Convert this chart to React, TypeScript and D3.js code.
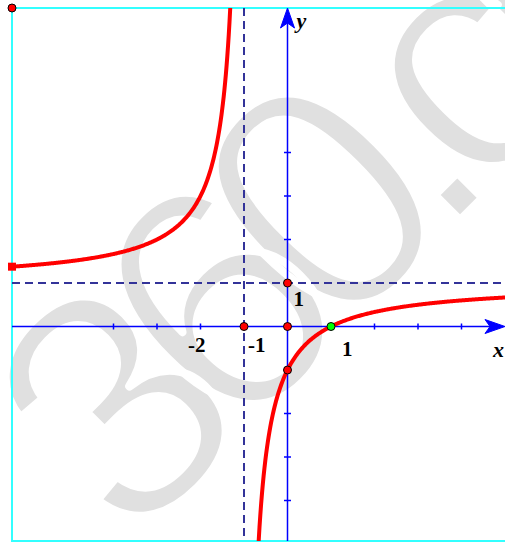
import React from "react";
import * as d3 from "d3";

// ---- data ----
const xTicks = [-4, -3, -2, -1, 1, 2, 3, 4];
const yTicks = [-4, -3, -2, -1, 1, 2, 3, 4];
const xTickLabels = [
  { v: -2, t: "-2" },
  { v: -1, t: "-1" },
  { v: 1, t: "1" },
];
const yTickLabels = [{ v: 1, t: "1" }];
// y = (x + numC) / (x + denC)
const numC = -1;
const denC = 1;
const asymptoteX = -1;
const asymptoteY = 1;
const redPoints = [
  [-1, 0],
  [0, 0],
  [0, 1],
  [0, -1],
];
const greenPoints = [[1, 0]];
const watermark = "360.cn";

const W = 505;
const H = 543;
const unit = 43.5;
const ox = 287.5;
const oy = 326.5;
const frameL = 12;
const frameT = 8;
const frameB = 541;

export default function App() {
  const x = d3.scaleLinear().domain([0, 1]).range([ox, ox + unit]);
  const y = d3.scaleLinear().domain([0, 1]).range([oy, oy - unit]);
  const f = (v: number) => (v + numC) / (v + denC);

  const xLeft = x.invert(frameL);
  const xRight = x.invert(W + 2);
  const yTop = y.invert(frameT);
  const yBot = y.invert(frameB);
  // inverse: y=(x+a)/(x+b) -> x = (a - b*y)/(y-1)
  const finv = (yy: number) => (numC - denC * yy) / (yy - 1);
  const xTopBranch = finv(yTop);
  const xBotBranch = finv(yBot);

  const N = 300;
  const leftPts = d3.range(N + 1).map((i) => {
    const v = xLeft + ((xTopBranch - xLeft) * i) / N;
    return [v, f(v)] as [number, number];
  });
  const rightPts = d3.range(N + 1).map((i) => {
    const v = xBotBranch + ((xRight - xBotBranch) * i) / N;
    return [v, f(v)] as [number, number];
  });
  const line = d3
    .line<[number, number]>()
    .x((d) => x(d[0]))
    .y((d) => y(d[1]))
    .curve(d3.curveLinear);

  const axisColor = "#0000ff";
  const dashColor = "#333399";
  const labelFont = "'Liberation Serif', 'Times New Roman', serif";
  const labelDx = (v: number) => (v === -2 ? -12.5 : v === -1 ? 4 : 11);
  const labelDy = (v: number) => (v > 0 ? 29 : 25);

  return (
    <svg
      width={W}
      height={H}
      style={{ position: "absolute", left: 0, top: 0, background: "#fff" }}
    >
      {/* watermark */}
      <g transform={`translate(130,550) rotate(-45)`}>
        <text
          x={0}
          y={0}
          fontFamily="'Liberation Sans', Arial, sans-serif"
          fontSize={330}
          letterSpacing={-38}
          fill="#e0e0e0"
          stroke="#ffffff"
          strokeWidth={8}
          strokeLinejoin="round"
        >
          {watermark}
        </text>
      </g>

      {/* frame */}
      <rect
        x={frameL}
        y={frameT}
        width={W + 20 - frameL}
        height={frameB - frameT}
        fill="none"
        stroke="#33ffff"
        strokeWidth={2}
      />

      {/* asymptotes */}
      <line
        x1={x(asymptoteX)}
        x2={x(asymptoteX)}
        y1={frameT}
        y2={frameB}
        stroke={dashColor}
        strokeWidth={2}
        strokeDasharray="8,5"
      />
      <line
        x1={frameL}
        x2={W}
        y1={y(asymptoteY)}
        y2={y(asymptoteY)}
        stroke={dashColor}
        strokeWidth={2}
        strokeDasharray="8,5"
      />

      {/* axes */}
      <line x1={frameL} x2={W - 10} y1={oy} y2={oy} stroke={axisColor} strokeWidth={1.5} />
      <line x1={ox} x2={ox} y1={frameB} y2={frameT + 10} stroke={axisColor} strokeWidth={1.5} />
      {xTicks.map((t) => (
        <line key={"xt" + t} x1={x(t)} x2={x(t)} y1={oy - 3} y2={oy + 3} stroke={axisColor} strokeWidth={1.5} />
      ))}
      {yTicks.map((t) => (
        <line key={"yt" + t} x1={ox - 3.5} x2={ox + 3.5} y1={y(t)} y2={y(t)} stroke={axisColor} strokeWidth={1.5} />
      ))}
      {/* arrows */}
      <path
        d={`M ${ox} ${frameT} L ${ox - 7} ${frameT + 20} L ${ox} ${frameT + 15} L ${ox + 7} ${frameT + 20} Z`}
        fill={axisColor}
        stroke={axisColor}
        strokeWidth={1}
      />
      <path
        d={`M ${W} ${oy} L ${W - 20} ${oy - 7} L ${W - 15} ${oy} L ${W - 20} ${oy + 7} Z`}
        fill={axisColor}
        stroke={axisColor}
        strokeWidth={1}
      />
      {/* axis names */}
      <text x={ox + 9} y={frameT + 20} fontFamily={labelFont} fontStyle="italic" fontWeight="bold" fontSize={22}>
        y
      </text>
      <text x={W - 12} y={oy + 30} fontFamily={labelFont} fontStyle="italic" fontWeight="bold" fontSize={22}>
        x
      </text>
      {/* tick labels */}
      {xTickLabels.map((d) => (
        <text
          key={"xl" + d.v}
          x={x(d.v) + labelDx(d.v)}
          y={oy + labelDy(d.v)}
          fontFamily={labelFont}
          fontWeight="bold"
          fontSize={21}
        >
          {d.t}
        </text>
      ))}
      {yTickLabels.map((d) => (
        <text
          key={"yl" + d.v}
          x={ox + 6}
          y={y(d.v) + 23}
          fontFamily={labelFont}
          fontWeight="bold"
          fontSize={21}
        >
          {d.t}
        </text>
      ))}

      {/* curve */}
      <path d={line(leftPts) || ""} fill="none" stroke="#ff0000" strokeWidth={4} />
      <path d={line(rightPts) || ""} fill="none" stroke="#ff0000" strokeWidth={4} />
      <rect
        x={x(xLeft) - 4}
        y={y(f(xLeft)) - 4}
        width={8}
        height={8}
        fill="#ff0000"
      />

      {/* points */}
      {redPoints.map((p, i) => (
        <circle key={"rp" + i} cx={x(p[0])} cy={y(p[1])} r={4} fill="#ff0000" stroke="#000" strokeWidth={1} />
      ))}
      {greenPoints.map((p, i) => (
        <circle key={"gp" + i} cx={x(p[0])} cy={y(p[1])} r={4} fill="#00ff00" stroke="#000" strokeWidth={1} />
      ))}
      <circle cx={frameL} cy={frameT} r={4} fill="#ff0000" stroke="#000" strokeWidth={1} />
    </svg>
  );
}
